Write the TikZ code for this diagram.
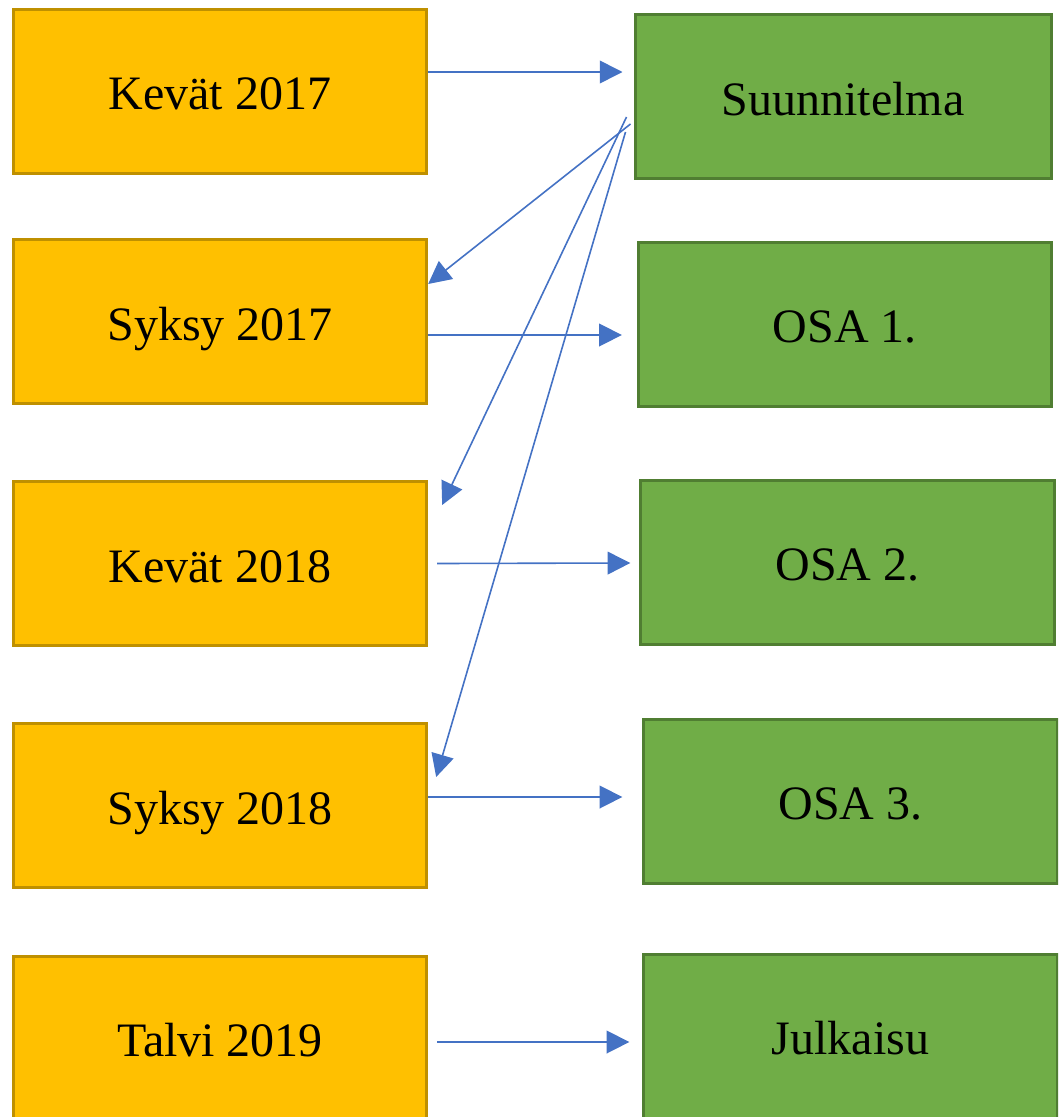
\documentclass[tikz,border=0pt]{standalone}
\usepackage{fontspec}
\setmainfont{Liberation Serif}
\usetikzlibrary{arrows.meta}

\definecolor{termfill}{HTML}{FFC000}
\definecolor{termline}{HTML}{BF9000}
\definecolor{partfill}{HTML}{70AD47}
\definecolor{partline}{HTML}{507E32}
\definecolor{linkblue}{HTML}{4472C4}

\tikzset{
  box/.style={rectangle, line width=2.25pt, minimum width=310pt,
    minimum height=123pt, inner sep=0pt, text height=33pt, text depth=5.2pt,
    font=\fontsize{36}{40}\selectfont},
  term/.style={box, draw=termline, fill=termfill},
  part/.style={box, draw=partline, fill=partfill},
  link/.style={draw=linkblue, line width=1.2pt,
    -{Triangle[length=17pt,width=17pt]}}
}

\begin{document}
\begin{tikzpicture}[x=0.75pt, y=-0.75pt]
  \useasboundingbox (0,0) rectangle (1058,1117);
  \clip (0,0) rectangle (1058,1117);

  % semesters
  \node[term] (o1) at (220,91)   {Kevät 2017};
  \node[term] (o2) at (220,321.5) {Syksy 2017};
  \node[term] (o3) at (220,563.5) {Kevät 2018};
  \node[term] (o4) at (220,805.5) {Syksy 2018};
  \node[term] (o5) at (220,1038)  {Talvi 2019};

  % work parts
  \node[part, minimum width=312pt] (g1) at (843,96.5) {Suunnitelma};
  \node[part] (g2) at (845,324)   {OSA 1.};
  \node[part] (g3) at (847.5,562) {OSA 2.};
  \node[part] (g4) at (850.5,801) {OSA 3.};
  \node[part] (g5) at (850.5,1036) {Julkaisu};

  % semester -> part
  \draw[link] ([shift={(0,-19)}]o1.east)  -- ([shift={(-11,-24.5)}]g1.west);
  \draw[link] ([shift={(0,13.5)}]o2.east) -- ([shift={(-15,11)}]g2.west);
  \draw[link] ([shift={(9,0)}]o3.east)    -- ([shift={(-9,1)}]g3.west);
  \draw[link] ([shift={(0,-8.5)}]o4.east) -- ([shift={(-20,-4)}]g4.west);
  \draw[link] ([shift={(9,4)}]o5.east)    -- ([shift={(-13,6)}]g5.west);

  % plan feeds the later semesters
  \draw[link] ([shift={(-3,27.5)}]g1.west) -- ([shift={(0,-37.5)}]o2.east);
  \draw[link] ([shift={(-7,20.5)}]g1.west) -- ([shift={(14,-58.5)}]o3.east);
  \draw[link] ([shift={(-8,35.5)}]g1.west) -- ([shift={(8,-28.5)}]o4.east);
\end{tikzpicture}
\end{document}
